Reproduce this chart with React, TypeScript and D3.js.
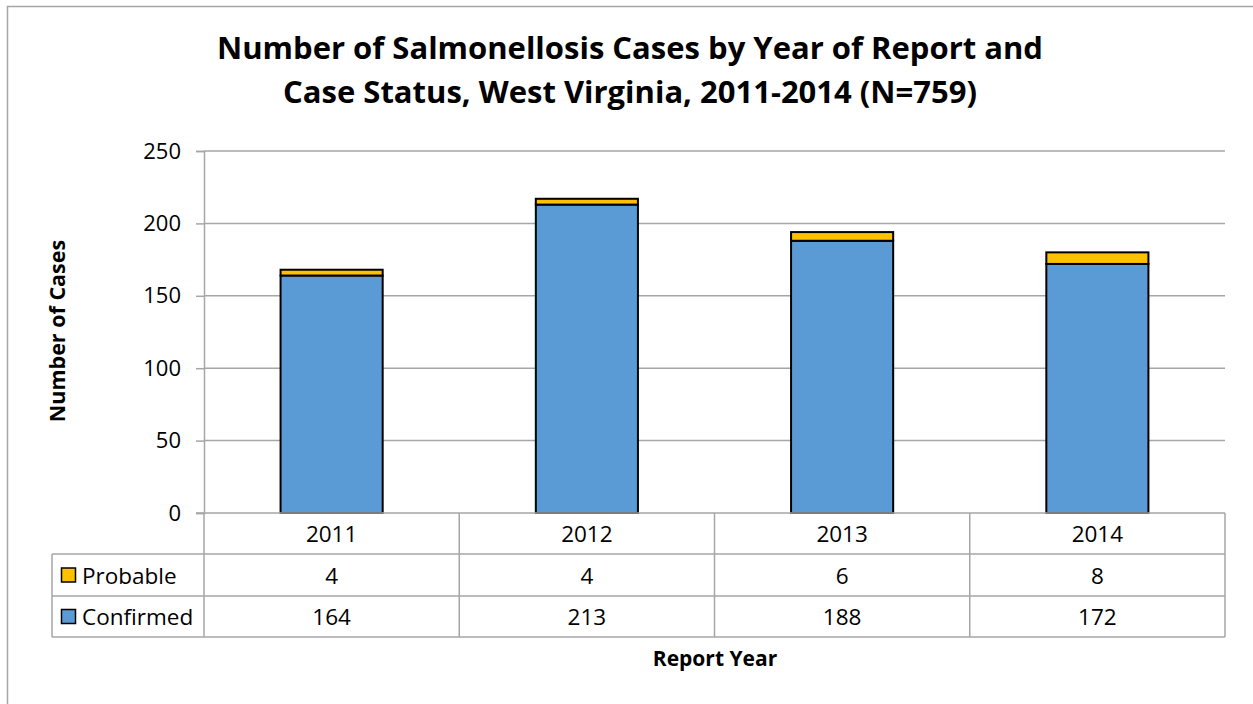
import React, { useEffect, useRef } from 'react';
import * as d3 from 'd3';

const years = ['2011', '2012', '2013', '2014'];
const probable = [4, 4, 6, 8];
const confirmed = [164, 213, 188, 172];
const yTicks = [0, 50, 100, 150, 200, 250];
const seriesNames = ['Probable', 'Confirmed'];
const titleLines = [
  'Number of Salmonellosis Cases by Year of Report and',
  'Case Status, West Virginia, 2011-2014 (N=759)',
];

const FONT = '"Open Sans", "Noto Sans", sans-serif';
const CONF_COLOR = '#5B9BD5';
const PROB_COLOR = '#FFC000';
const GRID = '#A6A6A6';

export default function App() {
  const ref = useRef<SVGSVGElement>(null);

  useEffect(() => {
    const svg = d3.select(ref.current);
    svg.selectAll('*').remove();

    const W = 1253, H = 704;
    const left = 204, right = 1225, top = 151, bottom = 513;

    // outer frame (only top & left edges visible)
    svg.append('rect').attr('width', W).attr('height', H).attr('fill', '#fff');
    svg.append('path')
      .attr('d', `M7.5,${H} V6.5 H${W}`)
      .attr('fill', 'none').attr('stroke', '#A6A6A6').attr('stroke-width', 1.5);

    const x = d3.scaleBand().domain(years).range([left, right]).paddingInner(0).paddingOuter(0);
    const y = d3.scaleLinear().domain([0, 250]).range([bottom, top]);

    // title
    titleLines.forEach((t, i) => {
      svg.append('text')
        .attr('x', 630).attr('y', 59 + i * 44)
        .attr('text-anchor', 'middle')
        .attr('font-family', FONT).attr('font-weight', 'bold').attr('font-size', 31)
        .text(t);
    });

    // gridlines
    svg.append('g').selectAll('line').data(yTicks.filter(d => d > 0)).enter().append('line')
      .attr('x1', left).attr('x2', right)
      .attr('y1', d => y(d)).attr('y2', d => y(d))
      .attr('stroke', GRID).attr('stroke-width', 1.5);

    // y axis
    const yAxis = svg.append('g')
      .attr('transform', `translate(${left},0)`)
      .call(d3.axisLeft(y).tickValues(yTicks).tickSize(8).tickPadding(15));
    yAxis.select('.domain').attr('stroke', GRID).attr('stroke-width', 1.5);
    yAxis.selectAll('.tick line').attr('stroke', GRID).attr('stroke-width', 1.5);
    yAxis.selectAll('.tick text')
      .attr('font-family', FONT).attr('font-size', 22).attr('fill', '#000');

    // bars
    const bw = x.bandwidth() * 0.4;
    const bars = svg.append('g').selectAll('g').data(years).enter().append('g');
    bars.append('rect')
      .attr('x', d => x(d)! + (x.bandwidth() - bw) / 2)
      .attr('width', bw)
      .attr('y', (d, i) => y(confirmed[i]))
      .attr('height', (d, i) => y(0) - y(confirmed[i]))
      .attr('fill', CONF_COLOR).attr('stroke', '#000').attr('stroke-width', 2);
    bars.append('rect')
      .attr('x', d => x(d)! + (x.bandwidth() - bw) / 2)
      .attr('width', bw)
      .attr('y', (d, i) => y(confirmed[i] + probable[i]))
      .attr('height', (d, i) => y(confirmed[i]) - y(confirmed[i] + probable[i]))
      .attr('fill', PROB_COLOR).attr('stroke', '#000').attr('stroke-width', 2);

    // baseline
    svg.append('line').attr('x1', left - 8).attr('x2', right)
      .attr('y1', bottom).attr('y2', bottom)
      .attr('stroke', GRID).attr('stroke-width', 1.5);

    // data table
    const tableLeft = 52, row1 = 554, row2 = 596, row3 = 637;
    const g = svg.append('g').attr('stroke', GRID).attr('stroke-width', 1.5);
    [row1, row2, row3].forEach(r => {
      g.append('line').attr('x1', tableLeft).attr('x2', right).attr('y1', r).attr('y2', r);
    });
    g.append('line').attr('x1', tableLeft).attr('x2', tableLeft).attr('y1', row1).attr('y2', row3);
    const bounds = years.map(d => x(d)!).concat([right]);
    bounds.forEach(bx => {
      g.append('line').attr('x1', bx).attr('x2', bx).attr('y1', bottom).attr('y2', row3);
    });

    const txt = (sel: any) => sel.attr('font-family', FONT).attr('font-size', 22.5)
      .attr('fill', '#000').attr('dominant-baseline', 'central');

    svg.append('g').selectAll('text').data(years).enter().append('text')
      .attr('x', d => x(d)! + x.bandwidth() / 2).attr('y', (bottom + row1) / 2)
      .attr('text-anchor', 'middle').call(txt).text(d => d);

    const rows = [
      { name: seriesNames[0], color: PROB_COLOR, vals: probable, yc: (row1 + row2) / 2 },
      { name: seriesNames[1], color: CONF_COLOR, vals: confirmed, yc: (row2 + row3) / 2 },
    ];
    rows.forEach(r => {
      svg.append('rect').attr('x', 61.5).attr('y', r.yc - 7).attr('width', 14).attr('height', 14)
        .attr('fill', r.color).attr('stroke', '#000').attr('stroke-width', 1.5);
      svg.append('text').attr('x', 82).attr('y', r.yc).call(txt).text(r.name);
      svg.append('g').selectAll('text').data(r.vals).enter().append('text')
        .attr('x', (d, i) => x(years[i])! + x.bandwidth() / 2).attr('y', r.yc)
        .attr('text-anchor', 'middle').call(txt).text(d => d);
    });

    // axis titles
    svg.append('text')
      .attr('transform', `translate(65,331) rotate(-90)`)
      .attr('text-anchor', 'middle')
      .attr('font-family', FONT).attr('font-weight', 'bold').attr('font-size', 21.5)
      .text('Number of Cases');
    svg.append('text')
      .attr('x', 715).attr('y', 666)
      .attr('text-anchor', 'middle')
      .attr('font-family', FONT).attr('font-weight', 'bold').attr('font-size', 21)
      .text('Report Year');
  }, []);

  return (
    <svg ref={ref} width={1253} height={704}
      style={{ position: 'absolute', left: 0, top: 0, display: 'block' }} />
  );
}
